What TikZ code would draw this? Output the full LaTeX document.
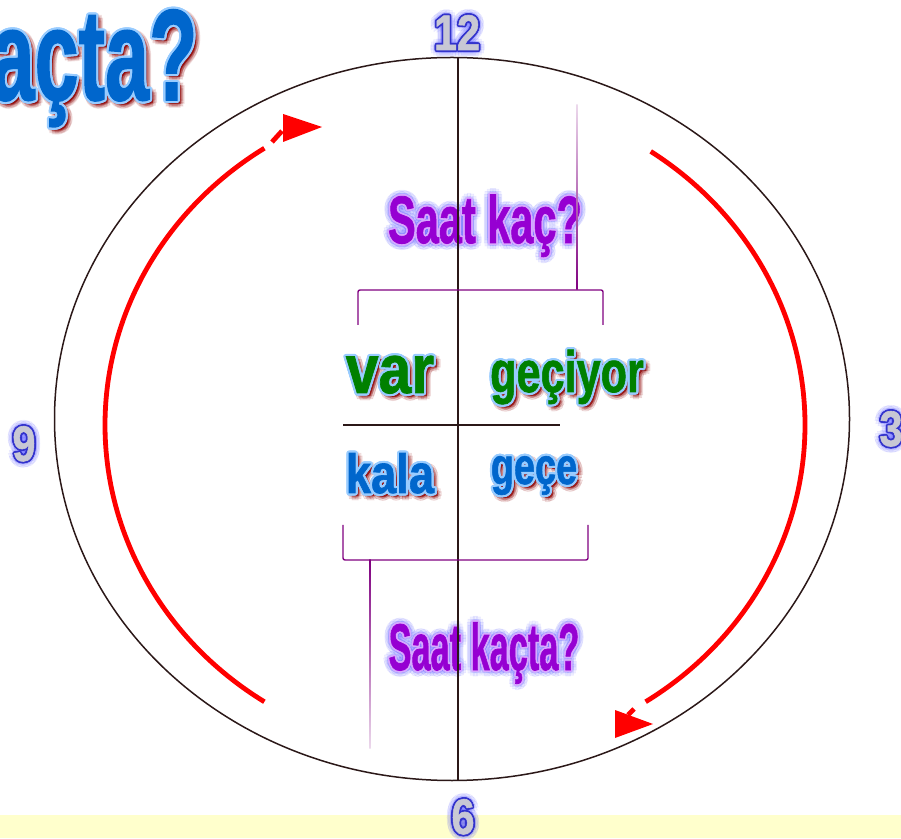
\documentclass[tikz,border=0pt]{standalone}
\usepackage{fontspec}
\usepackage{graphicx}
\usepackage{xcolor}
\usepackage{tikz}
\usetikzlibrary{shapes.geometric, positioning, calc}
\newfontfamily\wordfont{Liberation Sans}[FakeBold=1.2]
\definecolor{clockbrown}{RGB}{43,24,24}
\definecolor{bracketpurple}{RGB}{128,0,128}
\definecolor{arrowred}{RGB}{255,0,0}
\definecolor{wordgreen}{RGB}{0,128,0}
\definecolor{wordblue}{RGB}{0,102,204}
\definecolor{edgeblue}{RGB}{153,204,255}
\definecolor{shadowred}{RGB}{140,0,0}
\definecolor{askpurple}{RGB}{150,0,210}
\definecolor{askedge}{RGB}{215,170,255}
\definecolor{glowblue}{RGB}{90,90,255}
\definecolor{numgrey}{RGB}{200,200,212}
\definecolor{numedge}{RGB}{51,51,204}
\definecolor{bandyellow}{RGB}{255,255,204}
\tikzset{
  word/.style={font=\wordfont\bfseries\fontsize{#1}{#1}\selectfont, inner sep=0pt, anchor=base},
  clockline/.style={draw=clockbrown, line width=1.5pt},
  bracketline/.style={draw=bracketpurple, line width=1.4pt, rounded corners=2pt},
  turnarrow/.style={draw=arrowred, line width=4.8pt},
}
% name, position, size, xscale, outline, fill, text
\newcommand{\shadowword}[7]{%
  \foreach \rad in {0,2,4}{
    \foreach \ang in {0,45,...,315}{
      \node[word={#3}, text=shadowred, opacity=0.1] at ($(#2)+(3,-3)+(\ang:\rad pt)$) {\scalebox{#4}[1.08]{#7}};
    }
  }
  \foreach \ang in {0,22.5,...,337.5}{
    \node[word={#3}, text=#5] at ($(#2)+(\ang:2.2pt)$) {\scalebox{#4}[1.08]{#7}};
  }
  \node[word={#3}, text=#6] (#1) at (#2) {\scalebox{#4}[1.08]{#7}};
}
\newcommand{\glowword}[7]{%
  \foreach \rad in {3,6}{
    \foreach \ang in {0,30,...,330}{
      \node[word={#3}, text=glowblue, opacity=0.09] at ($(#2)+(\ang:\rad pt)$) {\scalebox{#4}[1]{#7}};
    }
  }
  \foreach \ang in {0,22.5,...,337.5}{
    \node[word={#3}, text=#5] at ($(#2)+(\ang:1.6pt)$) {\scalebox{#4}[1]{#7}};
  }
  \node[word={#3}, text=#6] (#1) at (#2) {\scalebox{#4}[1]{#7}};
}

\begin{document}
\begin{tikzpicture}[x=1pt, y=1pt]
  \useasboundingbox (0,0) rectangle (901,838);
  \clip (0,0) rectangle (901,838);
  \fill[bandyellow] (0,0) rectangle (901,23);

  % title and hour numbers
  \shadowword{title}{72,738}{120}{0.66}{edgeblue}{wordblue}{kaçta?}
  \glowword{twelve}{457,788}{50}{0.83}{numedge}{numgrey}{12}
  \glowword{nine}{24,377}{50}{0.83}{numedge}{numgrey}{9}
  \glowword{three}{891,392}{50}{0.83}{numedge}{numgrey}{3}
  \glowword{six}{463,4}{50}{0.83}{numedge}{numgrey}{6}

  % words
  \glowword{ask}{485,595}{67}{0.62}{askedge}{askpurple}{Saat kaç?}
  \glowword{askwhen}{484,168}{66}{0.52}{askedge}{askpurple}{Saat kaçta?}
  \shadowword{var}{390,445}{64}{0.92}{edgeblue}{wordgreen}{var}
  \shadowword{geciyor}{567,446}{54}{0.8}{edgeblue}{wordgreen}{geçiyor}
  \shadowword{kala}{390,345}{51}{0.89}{edgeblue}{wordblue}{kala}
  \shadowword{gece}{534,354}{48}{0.79}{edgeblue}{wordblue}{geçe}

  % clock face
  \draw[clockline] (452,419) ellipse [x radius=397.5, y radius=361.5];
  \coordinate (noon) at (458,780.5);
  \coordinate (sixpm) at (458,57.5);
  \coordinate (quarterleft) at (343,413);
  \coordinate (quarterright) at (560,413);
  \draw[clockline] (noon) -- (sixpm);
  \draw[clockline, line width=1.2pt] (quarterleft) -- (quarterright);

  % brackets
  \draw[bracketline] (358,513) -- (358,548) -- (603,548) -- (603,513);
  \shade[top color=bracketpurple!15, bottom color=bracketpurple] (576.3,548) rectangle (577.7,733);
  \draw[bracketline] (343,313) -- (343,278) -- (588,278) -- (588,313);
  \shade[top color=bracketpurple, bottom color=bracketpurple!15] (369.3,90) rectangle (370.7,278);

  % turning arrows
  \draw[turnarrow] (455,413) ++(56:350 and 330) arc[start angle=56, end angle=-57, x radius=350, y radius=330];
  \draw[turnarrow] (628,123) -- (634,129);
  \fill[arrowred] (615,128) -- (615,100) -- (653,114) -- cycle;
  \draw[turnarrow] (455,413) ++(237:350 and 330) arc[start angle=237, end angle=123, x radius=350, y radius=330];
  \draw[turnarrow] (272,696) -- (282,707);
  \fill[arrowred] (283,724) -- (283,696) -- (322,711) -- cycle;
\end{tikzpicture}
\end{document}
